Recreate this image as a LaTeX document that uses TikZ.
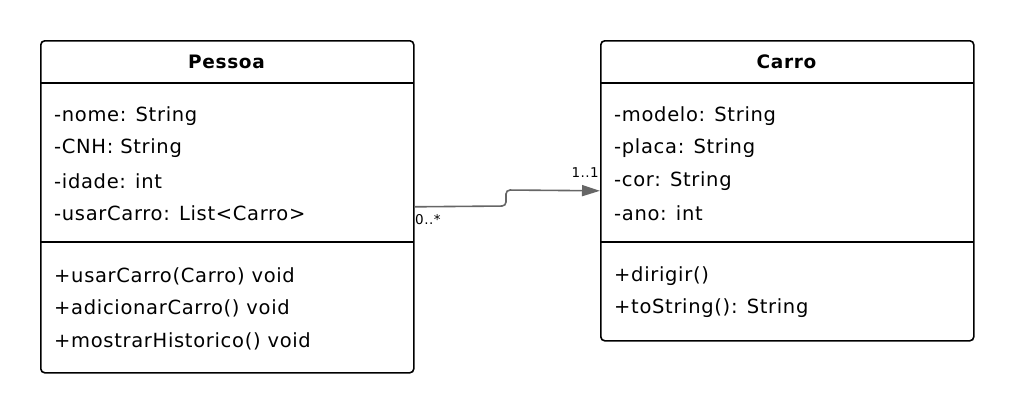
\documentclass[tikz,border=0pt]{standalone}
\usepackage{fontspec}
\setmainfont{DejaVu Sans}[LetterSpace=3.5]
\usetikzlibrary{arrows.meta, positioning}
\definecolor{linkgray}{HTML}{666666}
\tikzset{
  >=latex,
  % Classi UML
  classbox/.style={draw=black,line width=1.6pt,rounded corners=4pt,minimum width=373pt,inner sep=0pt,fill=white},
  classname/.style={font=\fontsize{18.5}{20}\selectfont\bfseries,inner sep=0pt},
  member/.style={font=\fontsize{19.5}{20}\selectfont,anchor=west,inner sep=0pt},
  divider/.style={line width=1.6pt,black},
  % Associazione
  assoc/.style={-{Triangle[length=18pt,width=11pt]},line width=1.6pt,linkgray,rounded corners=4pt},
  mult/.style={font=\fontsize{13.5}{15}\selectfont,inner sep=0pt}
}
\begin{document}
\begin{tikzpicture}[x=1pt,y=-1pt]
    \useasboundingbox (0,0) rectangle (1014,413);
    % Classe Pessoa
    \node[classbox,minimum height=332pt,anchor=north west] (pessoa) at (40,40) {};
    \node[classname] (pessoa-title) at (226.5,62) {Pessoa};
    \draw[divider] (40,83) -- (413,83);
    \draw[divider] (40,242) -- (413,242);
    \node[member] (p-nome) at (54,116) {-nome: String};
    \node[member] (p-cnh) at (54,148.5) {-CNH: String};
    \node[member] (p-idade) at (54,181) {-idade: int};
    \node[member] (p-usar) at (54,213.5) {-usarCarro: List<Carro>};
    \node[member] (p-m1) at (54,276) {+usarCarro(Carro) void};
    \node[member] (p-m2) at (54,308.5) {+adicionarCarro() void};
    \node[member] (p-m3) at (54,341) {+mostrarHistorico() void};
    % Classe Carro
    \node[classbox,minimum height=300pt,anchor=north west] (carro) at (600,40) {};
    \node[classname] (carro-title) at (786.5,62) {Carro};
    \draw[divider] (600,83) -- (973,83);
    \draw[divider] (600,242) -- (973,242);
    \node[member] (c-modelo) at (614,116) {-modelo: String};
    \node[member] (c-placa) at (614,148.5) {-placa: String};
    \node[member] (c-cor) at (614,181) {-cor: String};
    \node[member] (c-ano) at (614,213.5) {-ano: int};
    \node[member] (c-m1) at (614,276) {+dirigir()};
    \node[member] (c-m2) at (614,308.5) {+toString(): String};
    % Associazione Pessoa -> Carro
    \draw[assoc] (pessoa.east) -- (506,206) -- (506,190) -- (carro.west);
    \node[mult,anchor=west] (mult-src) at (415,220) {0..*};
    \node[mult,anchor=east] (mult-dst) at (599,173) {1..1};
\end{tikzpicture}
\end{document}
